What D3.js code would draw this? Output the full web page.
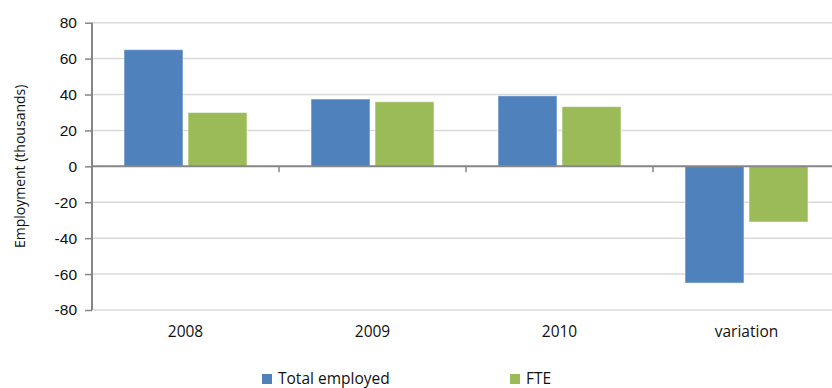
<!DOCTYPE html>
<html>
<head>
<meta charset="utf-8">
<script src="https://cdn.jsdelivr.net/npm/d3@7"></script>
<style>
  html, body { margin: 0; padding: 0; background: #fff; }
  svg { display: block; font-family: "Open Sans", "DejaVu Sans", sans-serif; }
</style>
</head>
<body>
<svg id="chart" width="832" height="388"></svg>
<script>
// Employment by year, with the variation over the period (thousands)
const categories = ["2008", "2009", "2010", "variation"];
const seriesNames = ["Total employed", "FTE"];
const totalEmployed = [65, 37.5, 39.3, -65];
const fte = [30, 36, 33.3, -31];
const yTicks = [-80, -60, -40, -20, 0, 20, 40, 60, 80];
const colors = ["#4F81BD", "#9BBB59"];

const seriesValues = [totalEmployed, fte];

const svg = d3.select("#chart");
const plotLeft = 92, plotRight = 840, plotTop = 22.7, plotBottom = 310;

const x0 = d3.scaleBand().domain(categories).range([plotLeft, plotRight]).padding(0);
const groupPad = 32;
const x1 = d3.scaleBand().domain(seriesNames)
  .range([groupPad, x0.bandwidth() - groupPad])
  .paddingInner(0.078).paddingOuter(0);
const y = d3.scaleLinear().domain([-80, 80]).range([plotBottom, plotTop]);

// Horizontal gridlines
svg.append("g")
  .selectAll("line")
  .data(yTicks.filter(t => t !== 0))
  .join("line")
  .attr("x1", plotLeft).attr("x2", plotRight)
  .attr("y1", d => y(d)).attr("y2", d => y(d))
  .attr("stroke", "#D9D9D9").attr("stroke-width", 1.5);

// Bars
const rows = categories.map((c, i) => ({
  cat: c,
  vals: seriesNames.map((s, j) => ({ s, j, v: seriesValues[j][i] }))
}));

svg.append("g")
  .selectAll("g")
  .data(rows)
  .join("g")
  .attr("transform", d => `translate(${x0(d.cat)},0)`)
  .selectAll("rect")
  .data(d => d.vals)
  .join("rect")
  .attr("x", d => x1(d.s))
  .attr("width", x1.bandwidth())
  .attr("y", d => y(Math.max(0, d.v)))
  .attr("height", d => Math.abs(y(d.v) - y(0)))
  .attr("fill", d => colors[d.j])
  .attr("stroke", "rgba(255,255,255,0.55)")
  .attr("stroke-width", 1);

// Y axis
const yAxis = d3.axisLeft(y).tickValues(yTicks).tickSize(7).tickPadding(8);
const gy = svg.append("g")
  .attr("transform", `translate(${plotLeft},0)`)
  .call(yAxis);
gy.select(".domain").attr("stroke", "#868686").attr("stroke-width", 2)
  .attr("d", `M0,${plotTop}V${plotBottom}`);
gy.selectAll(".tick line").attr("stroke", "#868686").attr("stroke-width", 1.5);
gy.selectAll(".tick text")
  .attr("font-size", 15.5).attr("fill", "#111")
  .text(d => d);

// Zero baseline with category separators
const xAxis = d3.axisBottom(x0).tickSize(0).tickFormat("");
const gx = svg.append("g")
  .attr("transform", `translate(0,${y(0)})`)
  .call(xAxis);
gx.select(".domain").attr("stroke", "#868686").attr("stroke-width", 2)
  .attr("d", `M${plotLeft},0H${plotRight}`);
gx.selectAll(".tick").remove();
gx.selectAll("line.sep")
  .data(categories.slice(1).concat(["end"]))
  .join("line")
  .attr("class", "sep")
  .attr("x1", (d, i) => plotLeft + (i + 1) * x0.step())
  .attr("x2", (d, i) => plotLeft + (i + 1) * x0.step())
  .attr("y1", 0).attr("y2", 6)
  .attr("stroke", "#868686").attr("stroke-width", 1.5);

// Category labels below the plot
svg.append("g")
  .selectAll("text")
  .data(categories)
  .join("text")
  .attr("x", d => x0(d) + x0.bandwidth() / 2)
  .attr("y", 337)
  .attr("text-anchor", "middle")
  .attr("font-size", 15.5)
  .attr("fill", "#111")
  .text(d => d);

// Y axis title
svg.append("text")
  .attr("transform", `translate(25,${(plotTop + plotBottom) / 2}) rotate(-90)`)
  .attr("text-anchor", "middle")
  .attr("font-size", 14)
  .attr("fill", "#111")
  .text("Employment (thousands)");

// Legend
const legendX = [262, 510];
const legend = svg.append("g")
  .selectAll("g")
  .data(seriesNames)
  .join("g")
  .attr("transform", (d, i) => `translate(${legendX[i]},374)`);
legend.append("rect")
  .attr("width", 10).attr("height", 10)
  .attr("fill", (d, i) => colors[i]);
legend.append("text")
  .attr("x", 16).attr("y", 10)
  .attr("font-size", 15.5)
  .attr("fill", "#111")
  .text(d => d);
</script>
</body>
</html>
